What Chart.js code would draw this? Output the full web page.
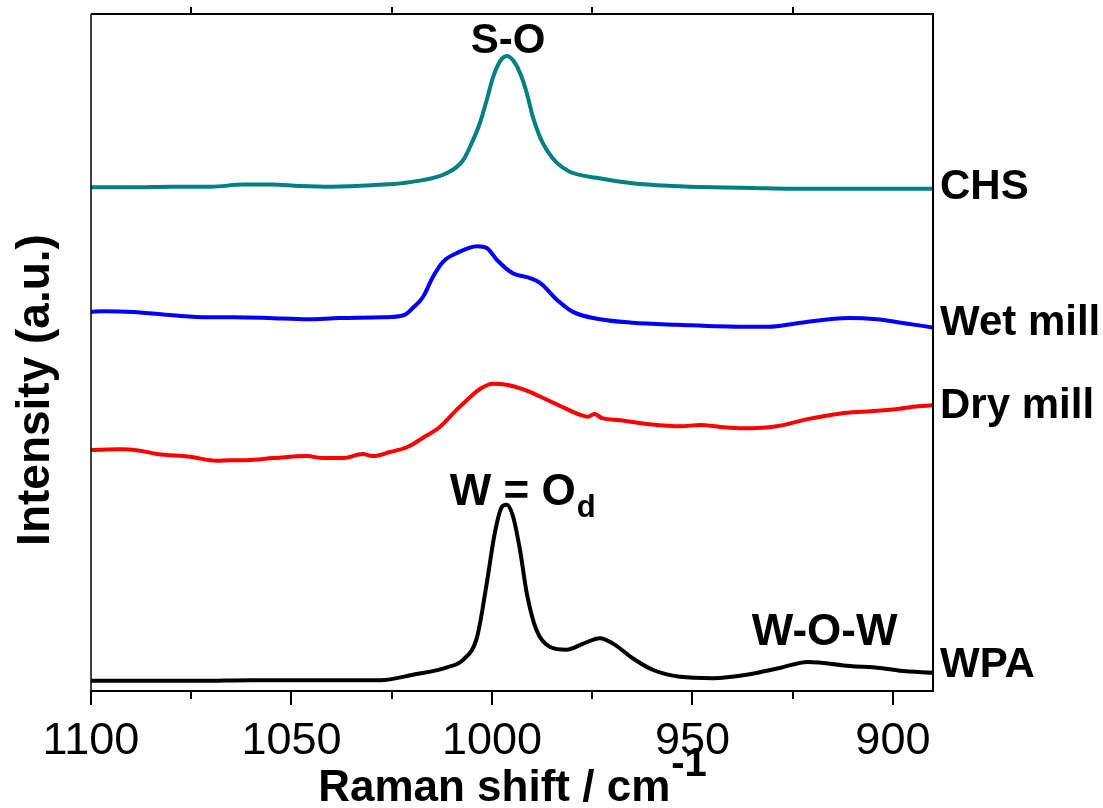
<!DOCTYPE html>
<html>
<head>
<meta charset="utf-8">
<script src="https://cdn.jsdelivr.net/npm/chart.js@4/dist/chart.umd.min.js"></script>
<style>
  html, body { margin: 0; padding: 0; background: #fff; }
  canvas { display: block; }
</style>
</head>
<body>
<canvas id="raman" width="1103" height="808"></canvas>
<script>
// Raman spectra, 1100–890 cm-1, stacked with vertical offsets (a.u.)
const chsWave = [1100, 1090, 1080, 1070, 1062, 1055, 1048, 1040, 1030, 1020, 1011.2, 1007.2, 1004.7, 1003, 1001.3, 999.7, 998, 996.3, 994.8, 993, 991.3, 989.8, 988, 986.3, 983.8, 980.6, 974, 965, 955, 945, 935, 925, 910, 900, 890];
const chsIntensity = [74.4, 74.4, 74.5, 74.5, 74.8, 74.8, 74.6, 74.5, 74.7, 75.2, 76.5, 78.4, 81.4, 83.9, 87.3, 90.7, 93.0, 93.8, 93.2, 91.3, 88.3, 84.8, 81.8, 79.9, 78.0, 76.7, 75.8, 75.0, 74.6, 74.4, 74.3, 74.2, 74.2, 74.2, 74.2];

const wetWave = [1100, 1097, 1089.5, 1079.6, 1071, 1064.6, 1056, 1046, 1038, 1027, 1022, 1019.7, 1017.2, 1014.7, 1012.2, 1008.7, 1003.7, 1001.2, 998.8, 994.8, 990.5, 988, 983.8, 979.8, 973, 965, 954, 937, 931, 923, 911, 904, 898, 890];
const wetIntensity = [56.0, 56.1, 56.0, 55.5, 55.2, 55.2, 55.1, 54.9, 55.1, 55.2, 55.5, 56.6, 58.2, 61.2, 63.4, 64.7, 65.7, 65.4, 63.7, 61.7, 61.0, 60.3, 57.8, 56.0, 54.9, 54.4, 54.1, 53.8, 53.8, 54.4, 55.1, 54.9, 54.4, 53.7];

const dryWave = [1100, 1092.8, 1087.8, 1083.5, 1075.3, 1068.6, 1065.3, 1061.1, 1054.6, 1046.1, 1042.1, 1037.2, 1032.2, 1029.7, 1025.4, 1021.2, 1017.2, 1013, 1008.7, 1006.2, 1003, 999.8, 996, 992, 988, 983, 978, 976, 974.5, 972.5, 968, 960.6, 953, 948, 943, 937.4, 929, 921, 913, 906.5, 898.3, 895, 890];
const dryIntensity = [35.6, 35.7, 35.5, 35.0, 34.6, 34.0, 34.1, 34.1, 34.4, 34.7, 34.4, 34.4, 35.0, 34.7, 35.3, 36.0, 37.4, 39.0, 41.6, 43.0, 44.6, 45.4, 45.2, 44.5, 43.5, 42.1, 40.8, 40.5, 40.9, 40.3, 40.0, 39.4, 39.1, 39.3, 39.0, 38.8, 39.1, 40.2, 41.0, 41.3, 41.7, 42.0, 42.2];

const wpaWave = [1100, 1085, 1072.8, 1060, 1047.9, 1035, 1027.9, 1019.7, 1011.2, 1007.2, 1003.7, 1001.3, 999.3, 997.5, 996.3, 994.7, 993, 991.3, 988.9, 985.5, 981.4, 977.2, 973.1, 969.8, 964.8, 959.8, 953.1, 944.8, 936.5, 928.2, 921.2, 910.7, 903.2, 898.3, 890];
const wpaIntensity = [1.5, 1.5, 1.5, 1.6, 1.6, 1.6, 1.6, 2.4, 3.5, 4.6, 8.0, 15.9, 23.3, 27.2, 27.5, 25.7, 20.8, 14.4, 9.0, 6.5, 6.1, 7.0, 7.8, 7.0, 4.8, 3.1, 2.1, 1.9, 2.4, 3.4, 4.3, 3.7, 3.4, 3.0, 2.7];

const seriesNames = ['CHS', 'Wet mill', 'Dry mill', 'WPA'];
const majorTicks = [1100, 1050, 1000, 950, 900];
const minorTicks = [1075, 1025, 975, 925];

const FONT = '"Liberation Sans", Arial, Helvetica, sans-serif';

function points(wave, intensity) {
  return wave.map((w, i) => ({ x: w, y: intensity[i] }));
}

// Frame, tick marks, series names, band assignments and axis titles
const decorations = {
  id: 'decorations',
  afterDraw(chart) {
    const { ctx, chartArea: a, scales: { x, y } } = chart;
    ctx.save();
    ctx.strokeStyle = '#000';
    ctx.fillStyle = '#000';
    ctx.lineCap = 'butt';

    // box
    ctx.lineWidth = 2;
    ctx.beginPath();
    ctx.moveTo(a.left, a.top);
    ctx.lineTo(a.right, a.top);
    ctx.lineTo(a.right, a.bottom);
    ctx.lineTo(a.left, a.bottom);
    ctx.stroke();
    ctx.lineWidth = 1.5;
    ctx.beginPath();
    ctx.moveTo(a.left, a.top);
    ctx.lineTo(a.left, a.bottom);
    ctx.stroke();

    // ticks
    ctx.lineWidth = 2;
    ctx.beginPath();
    majorTicks.forEach(v => {
      const px = Math.round(x.getPixelForValue(v));
      ctx.moveTo(px, a.bottom);
      ctx.lineTo(px, a.bottom + 14);
    });
    minorTicks.forEach(v => {
      const px = Math.round(x.getPixelForValue(v));
      ctx.moveTo(px, a.bottom);
      ctx.lineTo(px, a.bottom + 8);
      ctx.moveTo(px, a.top);
      ctx.lineTo(px, a.top - 7);
    });
    ctx.stroke();

    // series names at the right of the frame
    ctx.font = 'bold 42px ' + FONT;
    ctx.textAlign = 'left';
    ctx.textBaseline = 'alphabetic';
    const nameLevels = [72.7, 52.6, 40.3, 2.1];
    seriesNames.forEach((name, i) => {
      ctx.fillText(name, a.right + 7, y.getPixelForValue(nameLevels[i]));
    });

    // band assignments
    ctx.font = 'bold 42px ' + FONT;
    ctx.textAlign = 'center';
    ctx.fillText('S-O', x.getPixelForValue(996), y.getPixelForValue(94.2));

    ctx.font = 'bold 44px ' + FONT;
    ctx.textAlign = 'left';
    const wx = x.getPixelForValue(1010.5);
    const wy = y.getPixelForValue(27.5);
    ctx.fillText('W = O', wx, wy);
    const wWidth = ctx.measureText('W = O').width;
    ctx.font = 'bold 31px ' + FONT;
    ctx.fillText('d', wx + wWidth + 1, wy + 12);

    ctx.font = 'bold 44px ' + FONT;
    ctx.fillText('W-O-W', x.getPixelForValue(935.2), y.getPixelForValue(6.8));

    // x axis title with superscript
    const mainTitle = 'Raman shift / cm';
    const sup = '-1';
    ctx.font = 'bold 44px ' + FONT;
    const w1 = ctx.measureText(mainTitle).width;
    ctx.font = 'bold 40px ' + FONT;
    const w2 = ctx.measureText(sup).width;
    const cx = (a.left + a.right) / 2;
    const startX = cx - (w1 + w2) / 2;
    ctx.font = 'bold 44px ' + FONT;
    ctx.fillText(mainTitle, startX, 801);
    ctx.font = 'bold 40px ' + FONT;
    ctx.fillText(sup, startX + w1 + 1, 776);

    // y axis title
    ctx.save();
    ctx.translate(36, 390);
    ctx.rotate(-Math.PI / 2);
    ctx.font = 'bold 46px ' + FONT;
    ctx.textAlign = 'center';
    ctx.textBaseline = 'middle';
    ctx.fillText('Intensity (a.u.)', 0, 0);
    ctx.restore();

    ctx.restore();
  }
};

const whiteBackground = {
  id: 'whiteBackground',
  beforeDraw(chart) {
    const { ctx, width, height } = chart;
    ctx.save();
    ctx.fillStyle = '#fff';
    ctx.fillRect(0, 0, width, height);
    ctx.restore();
  }
};

new Chart(document.getElementById('raman'), {
  type: 'line',
  data: {
    datasets: [
      { label: seriesNames[0], data: points(chsWave, chsIntensity), borderColor: '#008080', borderWidth: 4 },
      { label: seriesNames[1], data: points(wetWave, wetIntensity), borderColor: '#0000ff', borderWidth: 4 },
      { label: seriesNames[2], data: points(dryWave, dryIntensity), borderColor: '#ff0000', borderWidth: 4 },
      { label: seriesNames[3], data: points(wpaWave, wpaIntensity), borderColor: '#000000', borderWidth: 4 }
    ]
  },
  options: {
    responsive: false,
    animation: false,
    devicePixelRatio: 1,
    layout: { padding: { top: 14, right: 170, left: 0, bottom: 0 } },
    elements: {
      point: { radius: 0, hoverRadius: 0 },
      line: { cubicInterpolationMode: 'monotone', fill: false, borderJoinStyle: 'round', borderCapStyle: 'round' }
    },
    plugins: { legend: { display: false }, tooltip: { enabled: false } },
    scales: {
      x: {
        type: 'linear',
        min: 890,
        max: 1100,
        reverse: true,
        afterBuildTicks: s => { s.ticks = majorTicks.map(v => ({ value: v })); },
        afterFit: s => { s.height = 117; },
        grid: { display: false },
        border: { display: false },
        ticks: {
          font: { family: FONT, size: 45 },
          color: '#000',
          padding: 16,
          maxRotation: 0,
          autoSkip: false,
          callback: v => String(v)
        }
      },
      y: {
        min: 0,
        max: 100,
        afterFit: s => { s.width = 91; },
        ticks: { display: false },
        grid: { display: false },
        border: { display: false }
      }
    }
  },
  plugins: [whiteBackground, decorations]
});
</script>
</body>
</html>
